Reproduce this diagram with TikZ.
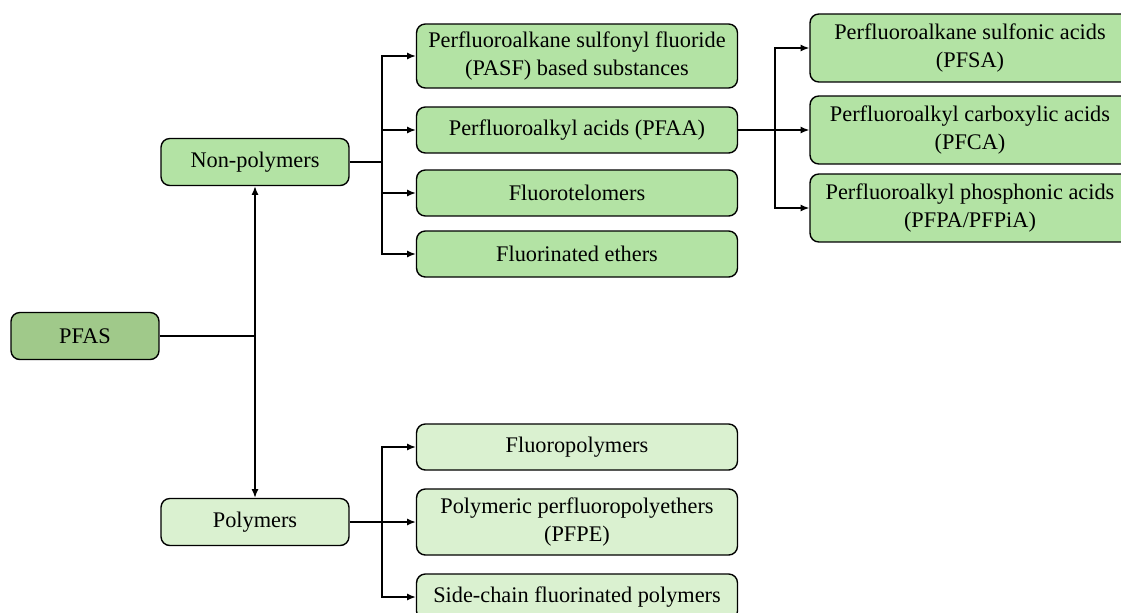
\documentclass[tikz,border=0pt]{standalone}
\usepackage{fontspec}
\setmainfont{Liberation Serif}
\usetikzlibrary{arrows.meta}
\definecolor{rootgreen}{HTML}{A0C98A}
\definecolor{midgreen}{HTML}{B3E3A4}
\definecolor{palegreen}{HTML}{DAF1D0}
\tikzset{
	box/.style={draw, line width=0.8pt, rounded corners=5pt, align=center, inner sep=0pt, font=\fontsize{12.7}{16}\selectfont},
	rootbox/.style={box, fill=rootgreen, minimum width=2.96cm, minimum height=0.94cm},
	catbox/.style={box, minimum width=3.76cm, minimum height=0.94cm},
	subbox/.style={box, minimum width=6.42cm, minimum height=0.92cm},
	acidbox/.style={box, fill=midgreen, minimum width=6.4cm, minimum height=1.36cm},
	link/.style={line width=0.8pt},
	arr/.style={link, -{Latex[length=5pt,width=4pt]}}
}
\begin{document}
\begin{tikzpicture}[x=0.02cm, y=-0.02cm]
	\useasboundingbox (0,0) rectangle (1121,612);
	
	% Boxes
	\node[rootbox] (pfas) at (85,336) {PFAS};
	\node[catbox, fill=midgreen] (nonpoly) at (255,162) {Non-polymers};
	\node[catbox, fill=palegreen] (poly) at (255,522) {Polymers};
	
	\node[subbox, fill=midgreen, minimum height=1.28cm] (pasf) at (577,56) {Perfluoroalkane sulfonyl fluoride\\(PASF) based substances};
	\node[subbox, fill=midgreen] (pfaa) at (577,130) {Perfluoroalkyl acids (PFAA)};
	\node[subbox, fill=midgreen] (telo) at (577,193) {Fluorotelomers};
	\node[subbox, fill=midgreen] (ether) at (577,254) {Fluorinated ethers};
	
	\node[acidbox] (pfsa) at (970,48) {Perfluoroalkane sulfonic acids\\(PFSA)};
	\node[acidbox] (pfca) at (970,130) {Perfluoroalkyl carboxylic acids\\(PFCA)};
	\node[acidbox] (pfpa) at (970,208) {Perfluoroalkyl phosphonic acids\\(PFPA/PFPiA)};
	
	\node[subbox, fill=palegreen] (fluoro) at (577,447) {Fluoropolymers};
	\node[subbox, fill=palegreen, minimum height=1.32cm] (pfpe) at (577,522) {Polymeric perfluoropolyethers\\(PFPE)};
	\node[subbox, fill=palegreen] (side) at (577,597) {Side-chain fluorinated polymers};
	
	% Branch points
	\coordinate (pb) at (255,336);
	\coordinate (nb) at (382,162);
	\coordinate (ab) at (775,130);
	\coordinate (qb) at (382,522);
	
	% Connectors
	\draw[link] (pfas.east) -- (pb);
	\draw[arr] (pb) -- (nonpoly.south);
	\draw[arr] (pb) -- (poly.north);
	
	\draw[link] (nonpoly.east) -- (nb);
	\foreach \target in {pasf, pfaa, telo, ether} {
		\draw[arr] (nb) |- (\target.west);
	}
	
	\draw[link] (pfaa.east) -- (ab);
	\foreach \target in {pfsa, pfca, pfpa} {
		\draw[arr] (ab) |- (\target.west);
	}
	
	\draw[link] (poly.east) -- (qb);
	\foreach \target in {fluoro, pfpe, side} {
		\draw[arr] (qb) |- (\target.west);
	}
\end{tikzpicture}
\end{document}
